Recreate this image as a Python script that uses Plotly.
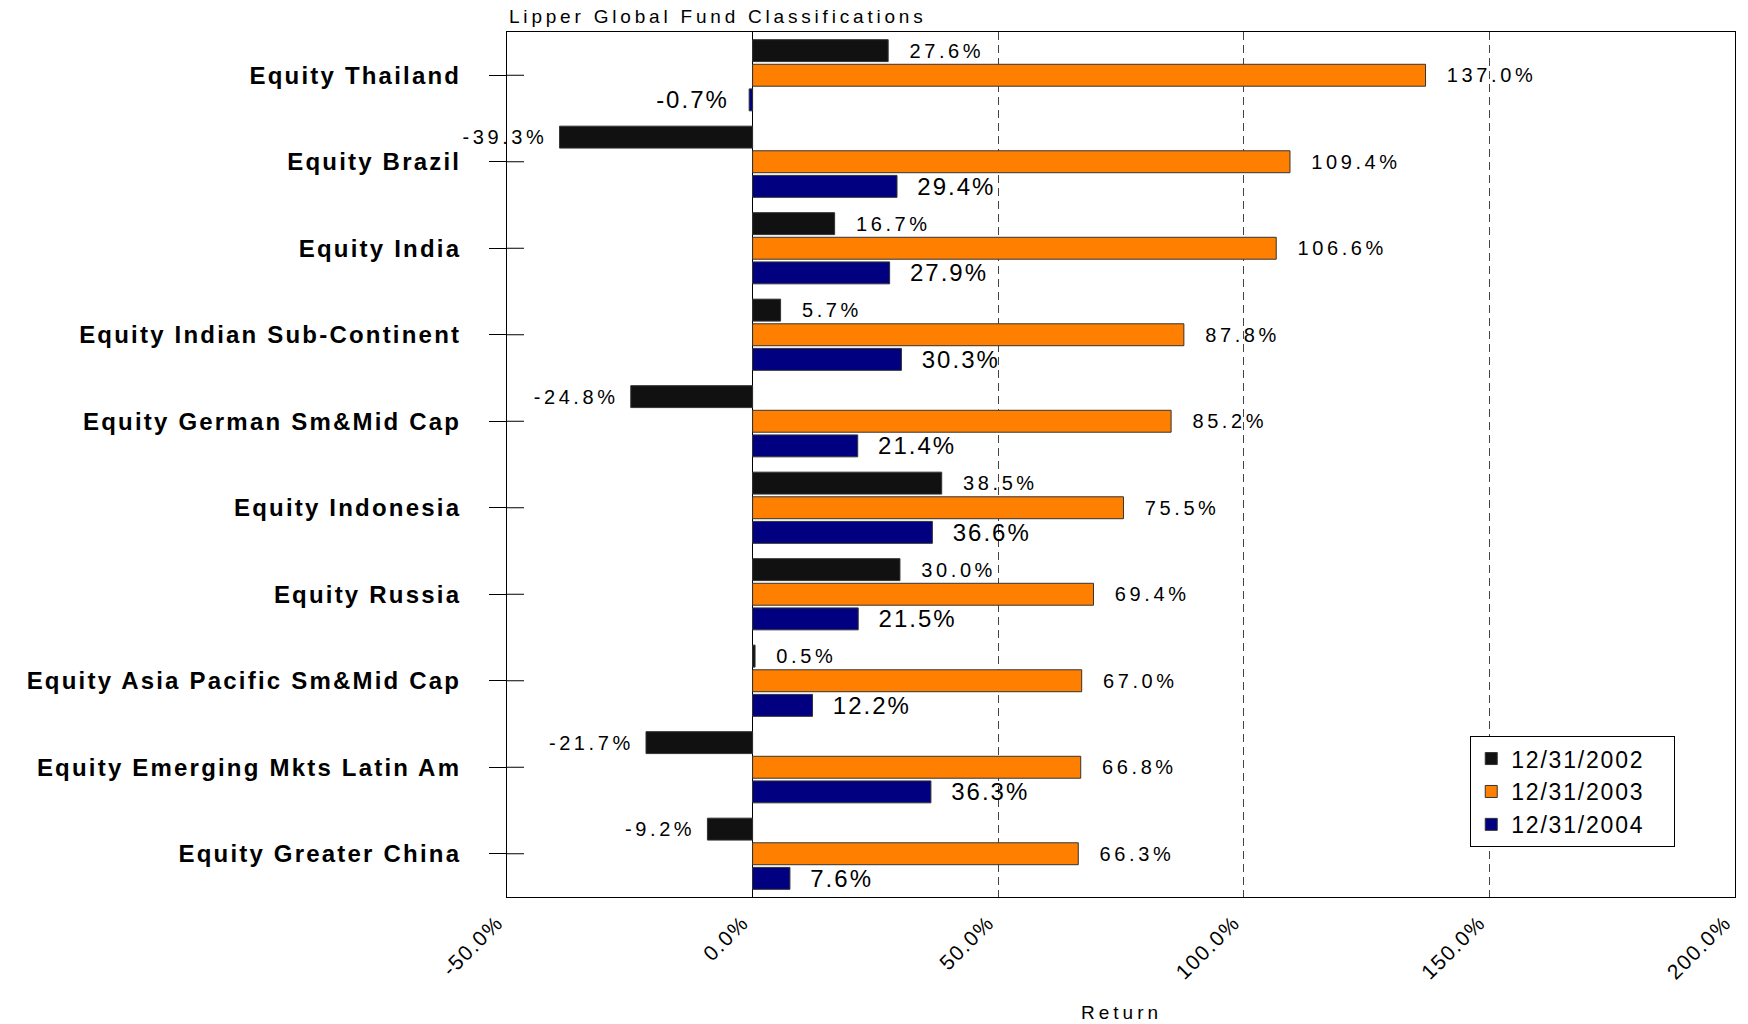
import plotly.graph_objects as go

# Fund classifications, top to bottom
categories = [
    "Equity Thailand",
    "Equity Brazil",
    "Equity India",
    "Equity Indian Sub-Continent",
    "Equity German Sm&Mid Cap",
    "Equity Indonesia",
    "Equity Russia",
    "Equity Asia Pacific Sm&Mid Cap",
    "Equity Emerging Mkts Latin Am",
    "Equity Greater China",
]

# Calendar-year returns (%)
returns_2002 = [27.6, -39.3, 16.7, 5.7, -24.8, 38.5, 30.0, 0.5, -21.7, -9.2]
returns_2003 = [137.0, 109.4, 106.6, 87.8, 85.2, 75.5, 69.4, 67.0, 66.8, 66.3]
returns_2004 = [-0.7, 29.4, 27.9, 30.3, 21.4, 36.6, 21.5, 12.2, 36.3, 7.6]

series_names = ["12/31/2002", "12/31/2003", "12/31/2004"]
series_colors = ["#111111", "#FF8000", "#000080"]
x_ticks = [-50, 0, 50, 100, 150, 200]

FONT = "Liberation Sans, Arial, Helvetica, sans-serif"
NBSP = "\u00a0"


def spaced(text, px):
    return f'<span style="letter-spacing:{px}px">{text}</span>'


def value_label(v, px, pad_pos, pad_neg):
    s = f"{v:.1f}%"
    s = NBSP * pad_pos + s if v >= 0 else s + NBSP * pad_neg
    return spaced(s, px)


label_styles = [
    dict(size=20, spacing=3.6, pad_pos=2, pad_neg=1),
    dict(size=20, spacing=3.6, pad_pos=2, pad_neg=1),
    dict(size=24, spacing=2, pad_pos=2, pad_neg=2),
]

fig = go.Figure()
for name, vals, color, st in zip(series_names,
                                 [returns_2002, returns_2003, returns_2004],
                                 series_colors, label_styles):
    fig.add_trace(go.Bar(
        y=categories,
        x=vals,
        orientation="h",
        name=spaced(name + NBSP * 3, 1.8),
        legendgroup=name,
        marker=dict(color=color, line=dict(color="#333333", width=1)),
        text=[value_label(v, st["spacing"], st["pad_pos"], st["pad_neg"]) for v in vals],
        textposition="outside",
        textfont=dict(family=FONT, size=st["size"], color="black"),
        constraintext="none",
        cliponaxis=False,
        hoverinfo="skip",
    ))

plot_w = 1748 - 507 - 13
tick_half = 17 / plot_w

# category tick marks crossing into the plot area
shapes = [
    dict(type="line", xref="paper", yref="y", x0=0, x1=tick_half,
         y0=c, y1=c, line=dict(color="black", width=1))
    for c in categories
]

fig.update_layout(
    width=1748,
    height=1024,
    margin=dict(l=507, r=13, t=32, b=127, autoexpand=False),
    paper_bgcolor="white",
    plot_bgcolor="white",
    barmode="group",
    bargap=0.146,
    bargroupgap=0.11,
    font=dict(family=FONT, color="black"),
    showlegend=True,
    legend=dict(
        x=0.7844, y=0.186, xanchor="left", yanchor="top",
        bordercolor="black", borderwidth=1, bgcolor="white",
        font=dict(family=FONT, size=23, color="black"),
        traceorder="grouped", tracegroupgap=0,
    ),
    shapes=shapes,
    annotations=[
        dict(text=spaced("Lipper Global Fund Classifications", 3.8),
             xref="paper", yref="paper", x=0, y=1,
             xanchor="left", yanchor="bottom", yshift=3, showarrow=False,
             font=dict(family=FONT, size=19, color="black")),
        dict(text=spaced("Return", 4),
             xref="paper", yref="paper", x=0.5, y=0,
             xanchor="center", yanchor="middle", yshift=-115, showarrow=False,
             font=dict(family=FONT, size=19, color="black")),
    ],
)

fig.update_xaxes(
    range=[-50, 200],
    tickvals=x_ticks,
    ticktext=[spaced(f"{v:.1f}%", 1.5) for v in x_ticks],
    tickangle=-45,
    tickfont=dict(family=FONT, size=21, color="black"),
    ticks="",
    ticklabelstandoff=4,
    ticklabelshift=-10,
    showgrid=True,
    gridcolor="#444444",
    gridwidth=1,
    griddash="8px,5px",
    zeroline=True,
    zerolinecolor="black",
    zerolinewidth=1,
    showline=True,
    linecolor="black",
    linewidth=1,
    mirror=True,
)

fig.update_yaxes(
    type="category",
    categoryorder="array",
    categoryarray=categories,
    autorange="reversed",
    tickvals=categories,
    ticktext=[spaced(c, 2.2) for c in categories],
    tickfont=dict(family=FONT, size=24, color="black", weight="bold"),
    ticks="outside",
    ticklen=17,
    tickwidth=1,
    tickcolor="black",
    ticklabelstandoff=23,
    showgrid=False,
    showline=True,
    linecolor="black",
    linewidth=1,
    mirror=True,
)

fig.write_html("out.html")
